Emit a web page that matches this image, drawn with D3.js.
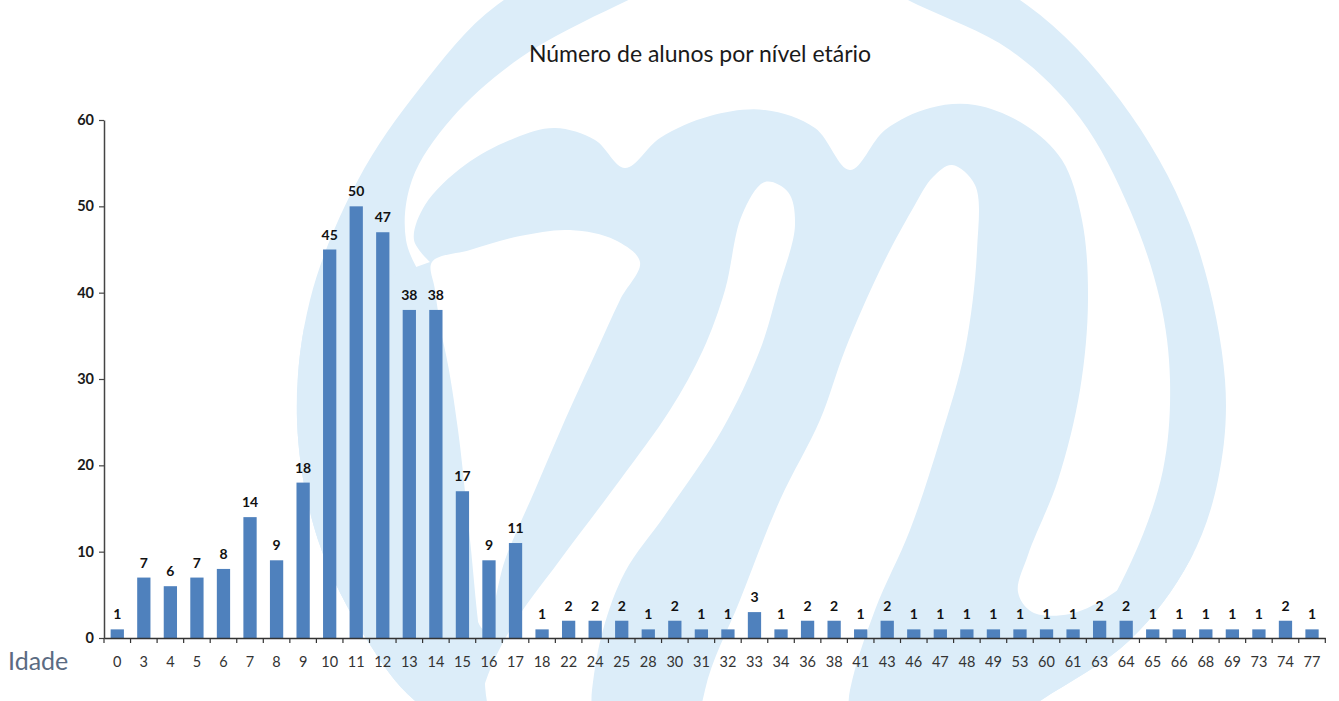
<!DOCTYPE html>
<html><head><meta charset="utf-8">
<script src="https://cdn.jsdelivr.net/npm/d3@7"></script>
<style>body{margin:0;background:#fff;} svg{display:block;}</style>
</head><body>
<svg id="c" width="1339" height="701"></svg>
<script>
// ---- data ----
const ages = [0,3,4,5,6,7,8,9,10,11,12,13,14,15,16,17,18,22,24,25,28,30,31,32,33,34,36,38,41,43,46,47,48,49,53,60,61,63,64,65,66,68,69,73,74,77];
const counts = [1,7,6,7,8,14,9,18,45,50,47,38,38,17,9,11,1,2,2,2,1,2,1,1,3,1,2,2,1,2,1,1,1,1,1,1,1,2,2,1,1,1,1,1,2,1];
const yTicks = [0,10,20,30,40,50,60];
const chartTitle = "Número de alunos por nível etário";
const xTitle = "Idade";

const svg = d3.select("#c");
const WM = "#dcedf9";

// ---- decorative watermark (ring + cursive m) ----
const outerRing = [[762,-80],[900,-58],[1027,5],[1120,100],[1190,225],[1225,380],[1218,480],[1190,560],[1130,640],[1040,701],[950,760],[760,800],[560,775],[420,705],[367,640],[318,540],[297,420],[310,300],[358,180],[420,88],[497,5],[620,-55]];
const hole = [[768,-35],[860,-22],[918,5],[1010,50],[1080,118],[1130,210],[1160,300],[1170,380],[1163,470],[1132,560],[1080,650],[1000,730],[850,780],[650,775],[500,730],[482,650],[470,540],[458,430],[445,350],[430,295],[406,240],[412,180],[452,118],[520,58],[618,5],[690,-25]];
const mTop = [[430,262],[414,240],[425,205],[465,165],[515,138],[555,128],[595,140],[625,168],[660,138],[710,116],[765,110],[815,128],[850,170],[885,130],[930,108],[975,105],[1025,125],[1062,160],[1082,220],[1088,300],[1080,390],[1058,480],[1028,555],[1018,592],[1032,612],[1070,614],[1115,592],[1150,560]];
const counterA = [[432,262],[470,250],[520,236],[570,230],[615,240],[640,262],[620,300],[597,350],[565,420],[535,490],[505,560],[485,630],[470,600],[460,500],[450,420],[442,340],[435,290]];
const counterB = [[765,182],[788,192],[795,225],[778,290],[760,350],[722,430],[665,515],[625,572],[603,630],[592,690],[586,780],[470,780],[483,690],[510,630],[560,560],[620,480],[670,410],[703,350],[725,290],[742,215]];
const counterC = [[952,165],[975,185],[977,250],[965,350],[940,440],[910,530],[875,610],[850,690],[840,780],[700,780],[705,690],[740,600],[780,500],[820,420],[845,350],[880,270],[912,210],[933,177]];

const closedLine = d3.line().curve(d3.curveCatmullRomClosed.alpha(0.5));
const openLine = d3.line().curve(d3.curveCatmullRom.alpha(0.5));
const defs = svg.append("defs");
defs.append("clipPath").attr("id","clipOuter").append("path").attr("d", closedLine(outerRing));
defs.append("clipPath").attr("id","clipHole").append("path").attr("d", closedLine(hole));

const wm = svg.append("g").attr("class","watermark");
wm.append("path").attr("d", closedLine(outerRing)).attr("fill", WM);
wm.append("path").attr("d", closedLine(hole)).attr("fill", "#fff");
wm.append("path")
  .attr("d", openLine(mTop) + "L1245,545L1245,790L350,790L290,560L300,330L380,280Z")
  .attr("fill", WM).attr("clip-path","url(#clipOuter)");
const wc = wm.append("g").attr("clip-path","url(#clipHole)");
[counterA, counterB, counterC].forEach(c => wc.append("path").attr("d", closedLine(c)).attr("fill","#fff"));

// ---- scales ----
const x = d3.scaleBand().domain(ages.map(String)).range([104, 1325.3]).paddingInner(0.5).paddingOuter(0.25);
const y = d3.scaleLinear().domain([0, 60]).range([638, 120]);
const FONT = "Lato, 'Open Sans', sans-serif";

// ---- title ----
svg.append("text").attr("x", 700).attr("y", 62).attr("text-anchor","middle")
  .attr("font-family", FONT).attr("font-size", 23).attr("fill","#1a1a1a").text(chartTitle);

// ---- bars ----
svg.append("g").selectAll("rect").data(ages).join("rect")
  .attr("x", (d) => x(String(d)))
  .attr("y", (d,i) => y(counts[i]))
  .attr("width", x.bandwidth())
  .attr("height", (d,i) => y(0) - y(counts[i]))
  .attr("fill", "#4f81bd");

// ---- value labels ----
svg.append("g").selectAll("text").data(ages).join("text")
  .attr("x", (d) => x(String(d)) + x.bandwidth()/2)
  .attr("y", (d,i) => y(counts[i]) - 10)
  .attr("text-anchor","middle")
  .attr("font-family", FONT).attr("font-weight", 700).attr("font-size", 14).attr("fill","#111")
  .text((d,i) => counts[i]);

// ---- y axis ----
const gy = svg.append("g").attr("transform","translate(104,0)")
  .call(d3.axisLeft(y).tickValues(yTicks).tickSize(5).tickSizeOuter(0).tickPadding(5));
gy.select(".domain").attr("stroke","#444").attr("stroke-width",1.5);
gy.selectAll(".tick line").attr("stroke","#444").attr("stroke-width",1.2);
gy.selectAll(".tick text").attr("font-family", FONT).attr("font-weight",700).attr("font-size",14.5).attr("fill","#1a1a1a");

// ---- x axis ----
const gx = svg.append("g").attr("transform","translate(0,638)")
  .call(d3.axisBottom(x).tickSize(0).tickSizeOuter(0).tickPadding(19));
gx.select(".domain").attr("stroke","#333").attr("stroke-width",1.5);
gx.selectAll(".tick text").attr("font-family", FONT).attr("font-size",14.5).attr("fill","#333");
const gap = (x.step() - x.bandwidth()) / 2;
const bounds = ages.map(a => x(String(a)) - gap).concat([x(String(ages[ages.length-1])) + x.bandwidth() + gap]);
gx.append("g").selectAll("line").data(bounds).join("line")
  .attr("x1", d => d).attr("x2", d => d).attr("y1", 0).attr("y2", 5)
  .attr("stroke","#333").attr("stroke-width",1.2);

// ---- x title ----
svg.append("text").attr("x", 8).attr("y", 670)
  .attr("font-family", FONT).attr("font-size", 25).attr("fill","#5b6b82").text(xTitle);
</script>
</body></html>
